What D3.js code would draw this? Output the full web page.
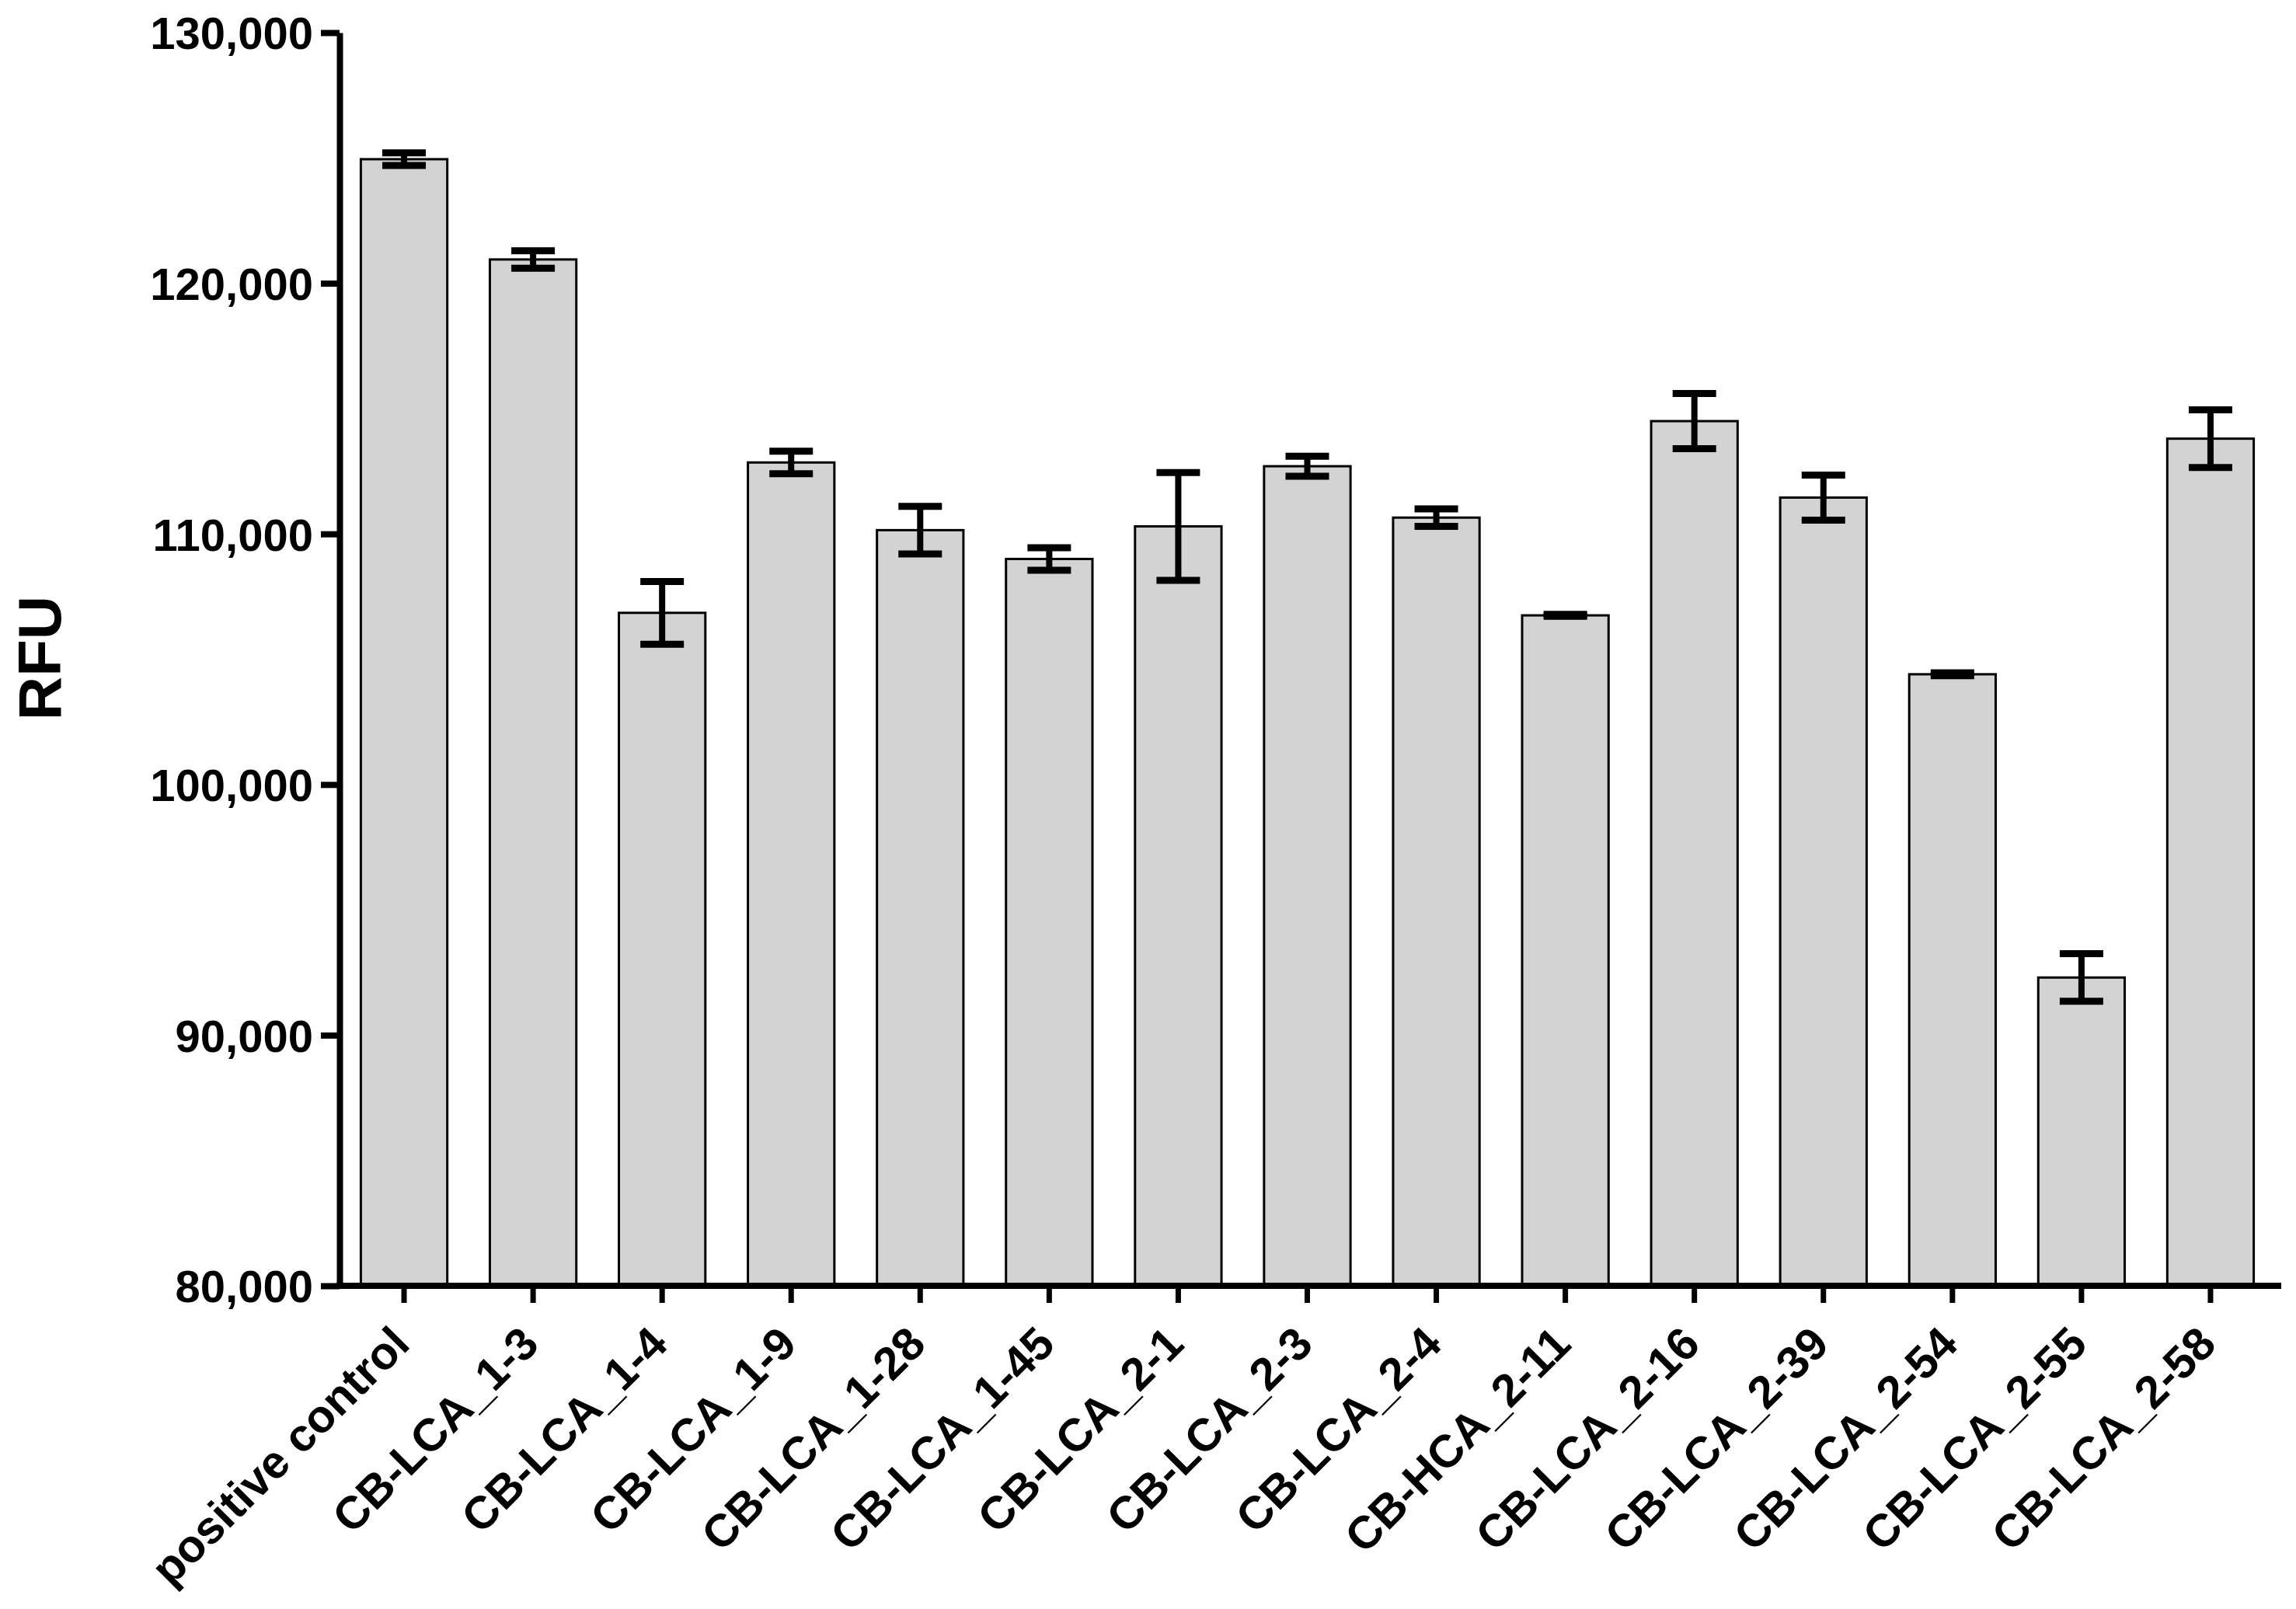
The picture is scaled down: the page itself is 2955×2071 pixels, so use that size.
<!DOCTYPE html>
<html>
<head>
<meta charset="utf-8">
<script src="https://cdn.jsdelivr.net/npm/d3@7"></script>
<style>
  html, body { margin: 0; padding: 0; background: #ffffff; }
  svg { display: block; font-family: "Liberation Sans", Arial, Helvetica, sans-serif; }
</style>
</head>
<body>
<svg id="chart" width="2955" height="2071"></svg>
<script>
const categories = ["positive control", "CB-LCA_1-3", "CB-LCA_1-4", "CB-LCA_1-9", "CB-LCA_1-28",
  "CB-LCA_1-45", "CB-LCA_2-1", "CB-LCA_2-3", "CB-LCA_2-4", "CB-HCA_2-11",
  "CB-LCA_2-16", "CB-LCA_2-39", "CB-LCA_2-54", "CB-LCA_2-55", "CB-LCA_2-58"];
const means  = [124950, 120950, 106850, 112850, 110150, 109000, 110300, 112700, 110650, 106750, 114500, 111450, 104400, 92300, 113800];
const errors = [250, 350, 1250, 450, 950, 450, 2150, 400, 350, 40, 1100, 900, 60, 950, 1150];
const yTicks = [80000, 90000, 100000, 110000, 120000, 130000];
const yLabel = "RFU";

const svg = d3.select("#chart");
const mLeft = 437, mRight = 2928, mTop = 42, mBottom = 1655;

const x = d3.scaleBand().domain(categories).range([mLeft, mRight]).paddingInner(0.33).paddingOuter(0.165);
const y = d3.scaleLinear().domain([80000, 130000]).range([mBottom, mTop]);

// bars
svg.append("g").selectAll("rect").data(categories).join("rect")
  .attr("x", d => x(d))
  .attr("y", (d, i) => y(means[i]))
  .attr("width", x.bandwidth())
  .attr("height", (d, i) => y(80000) - y(means[i]))
  .attr("fill", "#d3d3d3")
  .attr("stroke", "#000")
  .attr("stroke-width", 3);

// error bars
const capW = 56;
const eb = svg.append("g");
categories.forEach((c, i) => {
  const cx = x(c) + x.bandwidth() / 2;
  const y1 = y(means[i] + errors[i]), y2 = y(means[i] - errors[i]);
  eb.append("line").attr("x1", cx).attr("x2", cx).attr("y1", y1).attr("y2", y2)
    .attr("stroke", "#000").attr("stroke-width", 8);
  [y1, y2].forEach(yy => {
    eb.append("line").attr("x1", cx - capW / 2).attr("x2", cx + capW / 2).attr("y1", yy).attr("y2", yy)
      .attr("stroke", "#000").attr("stroke-width", 9);
  });
});

// y axis
const yAxis = svg.append("g").attr("transform", `translate(${mLeft},0)`)
  .call(d3.axisLeft(y).tickValues(yTicks).tickFormat(d3.format(",")).tickSize(24).tickSizeOuter(0).tickPadding(10));
yAxis.select(".domain").attr("stroke-width", 8);
yAxis.selectAll(".tick line").attr("stroke-width", 8);
yAxis.selectAll(".tick text").attr("font-size", 58).attr("font-weight", "bold").attr("fill", "#000").attr("dy", "0.36em");

// x axis
const xAxis = svg.append("g").attr("transform", `translate(0,${mBottom})`)
  .call(d3.axisBottom(x).tickSize(22).tickSizeOuter(0));
xAxis.select(".domain").attr("stroke-width", 8).attr("d", `M${mLeft - 4},0H${mRight + 8}`);
xAxis.selectAll(".tick line").attr("stroke-width", 7).attr("y1", 4);
xAxis.selectAll(".tick text")
  .attr("x", 0).attr("y", 0).attr("dy", 0)
  .attr("transform", "translate(10,78) rotate(-45)")
  .attr("text-anchor", "end")
  .attr("font-size", 59).attr("font-weight", "bold").attr("fill", "#000");

// y label
svg.append("text")
  .attr("transform", "translate(78,847) rotate(-90)")
  .attr("text-anchor", "middle")
  .attr("font-size", 78).attr("font-weight", "bold")
  .text(yLabel);
</script>
</body>
</html>
